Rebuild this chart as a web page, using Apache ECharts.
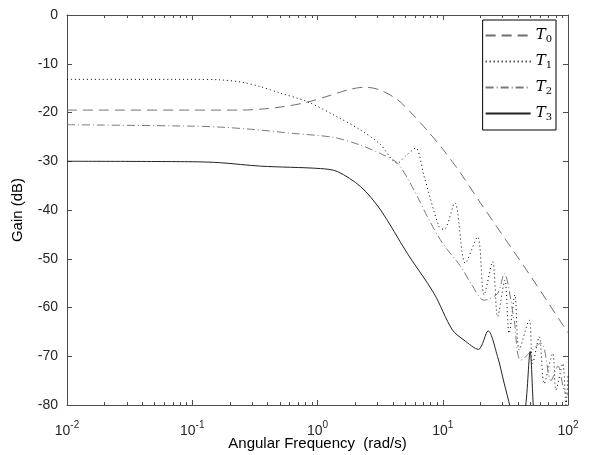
<!DOCTYPE html>
<html>
<head>
<meta charset="utf-8">
<script src="https://cdn.jsdelivr.net/npm/echarts@6/dist/echarts.min.js"></script>
<style>
  html, body { margin: 0; padding: 0; background: #fff; }
  #container { width: 589px; height: 455px; }
</style>
</head>
<body>
<div id="container"></div>
<script>
// points are [log10(w), gain dB]
var t0 = [[-2, -19.5], [-1, -19.5], [-0.6, -19.5], [-0.45, -19.3], [-0.3, -18.9], [-0.1, -18.0],
  [0.1, -16.5], [0.25, -15.3], [0.38, -14.8], [0.5, -15.4], [0.64, -17.4], [0.76, -20.4],
  [0.88, -23.8], [1.0, -27.5], [1.144, -32.5], [1.3, -38.5], [1.5, -46], [1.7, -53.5], [2.0, -65.2]];

var t1 = [[-2, -13.2], [-1, -13.2], [-0.78, -13.3], [-0.6, -13.8], [-0.456, -14.7], [-0.3, -16.0],
  [-0.08, -17.8], [0.158, -20.9], [0.344, -23.6], [0.5, -26.5], [0.638, -30.4], [0.7, -29.0],
  [0.784, -27.3], [0.85, -33], [0.97, -43.4], [1.01, -44], [1.096, -38.5], [1.18, -50.9],
  [1.278, -45.5], [1.33, -57.4], [1.398, -50.6], [1.438, -61.9], [1.496, -54.4], [1.53, -65.3],
  [1.576, -57.4], [1.61, -68.7], [1.69, -62.6], [1.718, -71.5], [1.77, -66], [1.81, -75.6],
  [1.878, -69.4], [1.904, -76.9], [1.958, -71.5], [1.984, -80], [2.0, -74]];

var t2 = [[-2, -22.5], [-1, -22.8], [-0.776, -23.0], [-0.5, -23.5], [-0.19, -24.3], [0.128, -25.1],
  [0.344, -26.7], [0.5, -28.4], [0.638, -30.4], [0.77, -35.9], [0.878, -41.4], [0.998, -46.8],
  [1.144, -51.6], [1.224, -55], [1.33, -58.5], [1.438, -57.1], [1.49, -53], [1.57, -62.6],
  [1.624, -70.8], [1.784, -67.3], [1.864, -75], [1.92, -72], [1.968, -77], [2.0, -78]];

var t3 = [[-2, -30.0], [-1, -30.1], [-0.776, -30.3], [-0.456, -31.0], [0.024, -31.5], [0.158, -32.1],
  [0.344, -35.2], [0.504, -40], [0.717, -48.9], [0.93, -57.1], [1.077, -64.6], [1.17, -66.7],
  [1.285, -68.6], [1.362, -64.8], [1.438, -70.1], [1.49, -75.5], [1.538, -80.5], [1.59, -88],
  [1.658, -81], [1.698, -69], [1.725, -81], [1.76, -90], [2.0, -90]];

var names = ['T0', 'T1', 'T2', 'T3'];

function toW(arr) {
  return arr.map(function (p) { return [Math.pow(10, p[0]), p[1]]; });
}

var axisCol = '#4d4d4d';
var font = 'Liberation Sans';

function xAx(pos, labels) {
  return {
    type: 'log', logBase: 10, min: 0.01, max: 100, position: pos,
    axisLine: { show: true, onZero: false, lineStyle: { color: axisCol, width: 1 } },
    axisTick: { show: true, inside: true, length: 5, lineStyle: { color: axisCol } },
    minorTick: { show: true, splitNumber: 9, length: 3, lineStyle: { color: axisCol } },
    splitLine: { show: false },
    axisLabel: labels ? {
      margin: 9, color: '#262626', fontFamily: font,
      formatter: function (v) {
        var e = Math.round(Math.log10(v));
        return '{b|10}{s|' + e + '}';
      },
      rich: {
        b: { fontSize: 14, fontFamily: font, color: '#262626', padding: [10, 0, 0, 0] },
        s: { fontSize: 10, fontFamily: font, color: '#262626', padding: [0, 0, 2, 0] }
      }
    } : { show: false },
    name: labels ? 'Angular Frequency  (rad/s)' : '',
    nameLocation: 'middle', nameGap: 31, nameMoveOverlap: false,
    nameTextStyle: { fontSize: 15, fontFamily: font, color: '#000' }
  };
}

function yAx(pos, labels) {
  return {
    type: 'value', min: -80, max: 0, interval: 10, position: pos,
    axisLine: { show: true, onZero: false, lineStyle: { color: axisCol, width: 1 } },
    axisTick: { show: true, inside: true, length: 5, lineStyle: { color: axisCol } },
    splitLine: { show: false },
    axisLabel: labels ? { margin: 9, fontSize: 14, color: '#262626', fontFamily: font } : { show: false },
    name: labels ? 'Gain (dB)' : '',
    nameLocation: 'middle', nameGap: 42, nameMoveOverlap: false,
    nameTextStyle: { fontSize: 15, fontFamily: font, color: '#000' }
  };
}

var styles = [
  { color: '#6e6e6e', type: [10, 6], width: 1 },
  { color: '#000000', type: [1, 3], width: 1 },
  { color: '#7a7a7a', type: [8, 3, 1, 3], width: 1 },
  { color: '#222222', type: 'solid', width: 1 }
];
var sets = [t0, t1, t2, t3];

var option = {
  animation: false,
  backgroundColor: '#fff',
  grid: { left: 67, right: 21, top: 15, bottom: 50, outerBoundsMode: 'none', containLabel: false },
  xAxis: [xAx('bottom', true), xAx('top', false)],
  yAxis: [yAx('left', true), yAx('right', false)],
  legend: {
    orient: 'vertical', right: 33, top: 20,
    backgroundColor: '#fff', borderColor: '#000', borderWidth: 1, borderRadius: 0,
    padding: [8, 4, 8, 2], itemGap: 10, itemWidth: 45, itemHeight: 14,
    itemStyle: { opacity: 0 },
    data: names,
    formatter: function (n) { return '{t|T}{s|' + n.slice(1) + '}'; },
    textStyle: {
      rich: {
        t: { fontSize: 15, fontStyle: 'italic', fontFamily: 'DejaVu Serif', color: '#000' },
        s: { fontSize: 10, fontFamily: 'DejaVu Serif', color: '#000', padding: [7, 0, 0, 0] }
      }
    }
  },
  series: sets.map(function (d, i) {
    return {
      name: names[i], type: 'line', data: toW(d), xAxisIndex: 0, yAxisIndex: 0,
      showSymbol: false, symbol: 'none', smooth: 0.3, clip: true,
      color: styles[i].color,
      lineStyle: styles[i]
    };
  })
};

var myChart = echarts.init(document.getElementById('container'));
myChart.setOption(option);
</script>
</body>
</html>
